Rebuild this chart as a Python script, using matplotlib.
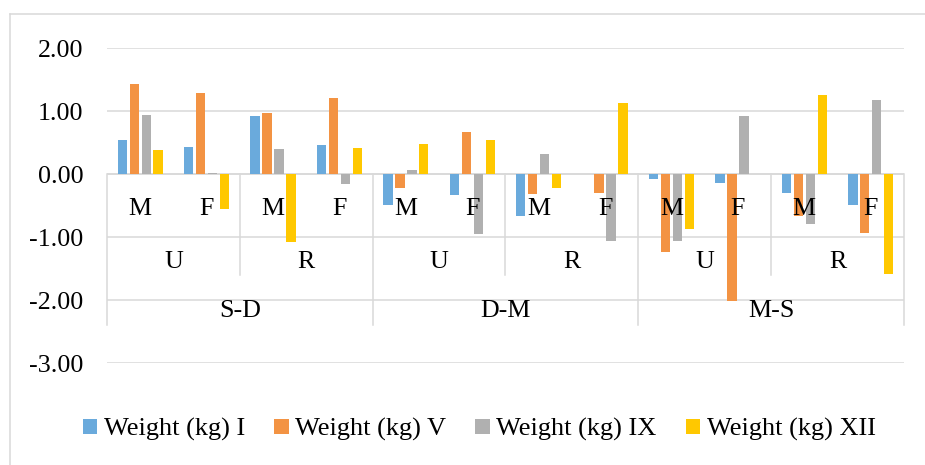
import matplotlib.pyplot as plt
from matplotlib.lines import Line2D
from matplotlib.patches import Patch
import numpy as np

plt.rcParams['font.family'] = ['Liberation Serif', 'DejaVu Serif']

# category levels (inner -> outer)
sex = ['M', 'F'] * 6
area = ['U', 'R'] * 3
period = ['S-D', 'D-M', 'M-S']

series = ['Weight (kg) I', 'Weight (kg) V', 'Weight (kg) IX', 'Weight (kg) XII']
w_I = [0.54, 0.43, 0.92, 0.46, -0.48, -0.32, -0.66, 0.00, -0.08, -0.13, -0.29, -0.48]
w_V = [1.43, 1.30, 0.97, 1.21, -0.22, 0.68, -0.31, -0.30, -1.23, -2.01, -0.66, -0.93]
w_IX = [0.95, 0.02, 0.41, -0.15, 0.07, -0.95, 0.33, -1.05, -1.06, 0.92, -0.78, 1.18]
w_XII = [0.38, -0.55, -1.07, 0.42, 0.48, 0.55, -0.21, 1.13, -0.87, 0.01, 1.26, -1.58]
colors = ['#6AAADC', '#F39343', '#B0B0B0', '#FFC800']
grid_c = '#D9D9D9'

fig = plt.figure(figsize=(9.25, 4.65), dpi=100)
ax = fig.add_axes([107/925, 0.2187, 797/925, 0.677])

x = np.arange(len(sex)) + 0.5
slot = 0.18
bw = 0.14
for k, vals in enumerate([w_I, w_V, w_IX, w_XII]):
    ax.bar(x + (k - 1.5) * slot, vals, width=bw, color=colors[k], zorder=3)

ax.set_xlim(0, 12)
ax.set_ylim(-3, 2)
ax.set_yticks([2, 1, 0, -1, -2, -3])
ax.set_yticklabels(['%.2f' % v for v in [2, 1, 0, -1, -2, -3]], fontsize=18.7)
ax.tick_params(axis='y', length=0, pad=17)
ax.set_xticks([])
for s in ax.spines.values():
    s.set_visible(False)
ax.yaxis.grid(True, color=grid_c, linewidth=1.1, zorder=0)
ax.set_axisbelow(True)
ax.axhline(0, color=grid_c, linewidth=1.1, zorder=1)

# multi-level category labels
for i, s in enumerate(sex):
    ax.text(x[i], -0.55, s, ha='center', va='center', fontsize=18.7, zorder=5)
for i, s in enumerate(area):
    ax.text(2 * i + 1, -1.39, s, ha='center', va='center', fontsize=18.7, zorder=5)
for i, s in enumerate(period):
    ax.text(4 * i + 2, -2.17, s, ha='center', va='center', fontsize=18.7, zorder=5)

# separators
for xs in [0, 4, 8, 12]:
    ax.plot([xs, xs], [0, -2.39], color=grid_c, linewidth=1.1, zorder=1, clip_on=False)
for xs in [2, 6, 10]:
    ax.plot([xs, xs], [0, -1.595], color=grid_c, linewidth=1.1, zorder=1)

handles = [Patch(facecolor=c, edgecolor='none') for c in colors]
fig.legend(handles, series, loc='center', bbox_to_anchor=(0.518, 0.076), ncol=4,
           frameon=False, fontsize=19, handlelength=0.55, handleheight=0.55,
           handletextpad=0.25, columnspacing=1.1)

# chart frame (left and top edges only visible)
fig.add_artist(Line2D([10/925, 10/925], [0, 1 - 14/465], color=grid_c, linewidth=1.1))
fig.add_artist(Line2D([10/925, 1], [1 - 14/465, 1 - 14/465], color=grid_c, linewidth=1.1))

fig.savefig('out.png', dpi=100)
